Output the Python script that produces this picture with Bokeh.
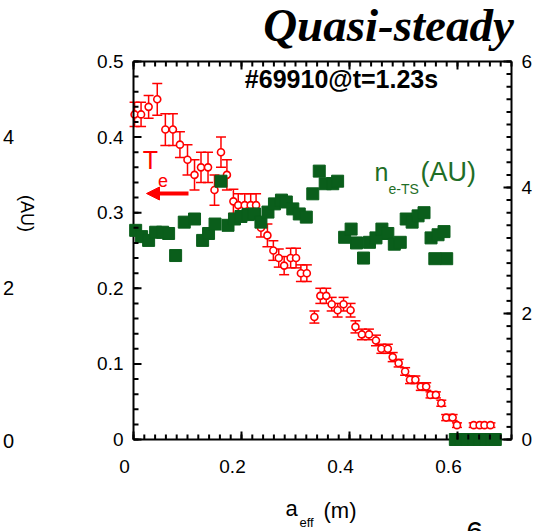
import math
from bokeh.plotting import figure
from bokeh.models import (Range1d, LinearAxis, ColumnDataSource, Whisker, TeeHead,
                          Label, Arrow, NormalHead, CustomJSTickFormatter, SingleIntervalTicker)
from bokeh.embed import file_html
from bokeh.resources import INLINE

# ---------------- data ----------------
te_x = [0.002, 0.014, 0.028, 0.044, 0.059, 0.073, 0.086, 0.100, 0.113, 0.125, 0.138, 0.150,
        0.162, 0.173, 0.185, 0.194, 0.206, 0.217, 0.227, 0.236, 0.248, 0.259, 0.269, 0.279,
        0.291, 0.301, 0.310, 0.321, 0.335, 0.346, 0.357, 0.367, 0.378, 0.389, 0.402, 0.411,
        0.423, 0.436, 0.449, 0.459, 0.471, 0.480, 0.491, 0.503, 0.512, 0.522, 0.532, 0.542,
        0.550, 0.560, 0.570, 0.579, 0.591, 0.599, 0.630, 0.641, 0.650, 0.661]
te_y = [0.430, 0.430, 0.440, 0.450, 0.410, 0.410, 0.390, 0.370, 0.350, 0.360, 0.360, 0.330,
        0.380, 0.350, 0.315, 0.310, 0.310, 0.310, 0.310, 0.280, 0.270, 0.250, 0.240, 0.230,
        0.240, 0.240, 0.220, 0.220, 0.162, 0.190, 0.190, 0.179, 0.171, 0.179, 0.171, 0.149,
        0.139, 0.139, 0.131, 0.120, 0.120, 0.109, 0.101, 0.090, 0.079, 0.079, 0.070, 0.070,
        0.059, 0.059, 0.048, 0.029, 0.029, 0.019, 0.019, 0.019, 0.019, 0.019]
te_err = [0.016, 0.016, 0.015, 0.021, 0.021, 0.021, 0.017, 0.020, 0.020, 0.020, 0.020, 0.020,
          0.020, 0.020, 0.016, 0.015, 0.015, 0.015, 0.015, 0.012, 0.015, 0.013, 0.012, 0.012,
          0.013, 0.013, 0.011, 0.011, 0.008, 0.010, 0.010, 0.009, 0.009, 0.009, 0.009, 0.008,
          0.007, 0.007, 0.007, 0.006, 0.006, 0.006, 0.005, 0.005, 0.005, 0.005, 0.005, 0.005,
          0.004, 0.004, 0.004, 0.004, 0.004, 0.003, 0.003, 0.003, 0.003, 0.003]

ne_x = [0.004, 0.015, 0.028, 0.041, 0.054, 0.065, 0.078, 0.094, 0.113, 0.128, 0.139, 0.151,
        0.162, 0.175, 0.187, 0.199, 0.212, 0.224, 0.236, 0.249, 0.261, 0.274, 0.283, 0.295,
        0.307, 0.320, 0.332, 0.344, 0.355, 0.369, 0.378, 0.391, 0.403, 0.413, 0.426, 0.437,
        0.449, 0.460, 0.471, 0.483, 0.494, 0.505, 0.516, 0.527, 0.538, 0.551, 0.558, 0.564,
        0.575, 0.580,
        0.596, 0.607, 0.618, 0.630, 0.641, 0.652, 0.663, 0.670]
ne_y = [3.32, 3.22, 3.16, 3.29, 3.29, 3.27, 2.92, 3.45, 3.50, 3.16, 3.27, 3.42,
        4.10, 3.40, 3.50, 3.54, 3.57, 3.58, 3.45, 3.61, 3.74, 3.80, 3.77, 3.66,
        3.58, 3.53, 3.90, 4.26, 4.06, 4.06, 4.10, 3.21, 3.34, 3.12, 2.88, 3.13,
        3.20, 3.34, 3.27, 3.10, 3.13, 3.50, 3.45, 3.55, 3.60, 3.20, 2.87, 3.25,
        3.30, 2.87,
        0.0, 0.0, 0.0, 0.0, 0.0, 0.0, 0.0, 0.0]

x_ticks = [0, 0.2, 0.4, 0.6]
x_tick_labels = ["0", "0.2", "0.4", "0.6"]
x_minor_ticks = [round(i * 0.02, 3) for i in range(36)]
y_ticks = [0, 0.1, 0.2, 0.3, 0.4, 0.5]
y_tick_labels = ["0", "0.1", "0.2", "0.3", "0.4", "0.5"]
y_minor_ticks = [round(i * 0.02, 3) for i in range(26)]
y2_ticks = [0, 2, 4, 6]
y2_tick_labels = ["0", "2", "4", "6"]
y2_minor_ticks = [round(i * 0.2, 2) for i in range(31)]
side_ticks = ["4", "2", "0"]

title_text = "Quasi-steady"
shot_text = "#69910@t=1.23s"

# ---------------- layout ----------------
W, H = 548, 531
L, R, T, B = 133, 511, 61, 439          # plot box in page pixels
XMAX, YMAX, Y2MAX = 0.7, 0.5, 6.0
MAJ, MIN, TW = 8, 5, 2                   # tick lengths / width (px)

RED = "#ff0000"
GREEN = "#0a5e1b"
TGREEN = "#1f6e27"
FONT = "Liberation Sans"

KX = XMAX / (R - L)      # data units per pixel
KY = YMAX / (B - T)
KY2 = Y2MAX / (B - T)


def dx(px):
    return (px - L) * KX


def dy(py):
    return (B - py) * KY


def dy2(py):
    return (B - py) * KY2


# the frame covers the whole page; the axes are pinned at the box edges
p = figure(width=W, height=H, output_backend="svg", toolbar_location=None,
           x_range=Range1d(dx(0), dx(W)), y_range=Range1d(dy(H), dy(0)),
           min_border=0, x_axis_location=None, y_axis_location=None)
p.extra_y_ranges = {"ne": Range1d(dy2(H), dy2(0))}
p.outline_line_color = None
p.background_fill_color = "white"
p.border_fill_color = "white"
p.grid.visible = False

blank = CustomJSTickFormatter(code="return ''")


def style(ax):
    ax.axis_line_width = 2
    ax.axis_line_color = "black"
    ax.major_tick_in = 0
    ax.major_tick_out = 0
    ax.minor_tick_in = 0
    ax.minor_tick_out = 0
    ax.major_tick_line_color = None
    ax.minor_tick_line_color = None
    ax.major_label_text_font = FONT
    ax.major_label_text_font_size = "19px"
    ax.major_label_text_color = "black"
    ax.major_label_standoff = 10


ax = LinearAxis(ticker=SingleIntervalTicker(interval=0.2), formatter=blank,
                fixed_location=0, bounds=(0, XMAX))
style(ax)
p.add_layout(ax, "below")
ax = LinearAxis(ticker=SingleIntervalTicker(interval=0.2), formatter=blank,
                fixed_location=YMAX, bounds=(0, XMAX))
style(ax)
p.add_layout(ax, "above")
ax = LinearAxis(ticker=SingleIntervalTicker(interval=0.1),
                major_label_overrides={v: s for v, s in zip(y_ticks, y_tick_labels)},
                fixed_location=0, bounds=(0, YMAX))
style(ax)
p.add_layout(ax, "left")
ax = LinearAxis(y_range_name="ne", ticker=SingleIntervalTicker(interval=2),
                major_label_overrides={v: s for v, s in zip(y2_ticks, y2_tick_labels)},
                fixed_location=XMAX, bounds=(0, Y2MAX))
style(ax)
p.add_layout(ax, "right")


# inward tick marks on all four sides, drawn as head-less whiskers through the plot scales
def ticks(base, lo, hi, dim, range_name="default"):
    s = ColumnDataSource(dict(b=base, lo=lo, hi=hi))
    w = Whisker(source=s, base="b", lower="lo", upper="hi", dimension=dim,
                upper_head=None, lower_head=None, line_color="black", line_width=TW,
                level="overlay")
    if range_name != "default":
        w.y_range_name = range_name
    p.add_layout(w)


for vals, n in ((x_minor_ticks, MIN), (x_ticks, MAJ)):
    k = len(vals)
    ticks(vals, [0] * k, [n * KY] * k, "height")
    ticks(vals, [YMAX - n * KY] * k, [YMAX] * k, "height")
for vals, n in ((y_minor_ticks, MIN), (y_ticks, MAJ)):
    k = len(vals)
    ticks(vals, [0] * k, [n * KX] * k, "width")
for vals, n in ((y2_minor_ticks, MIN), (y2_ticks, MAJ)):
    k = len(vals)
    ticks(vals, [XMAX - n * KX] * k, [XMAX] * k, "width", "ne")

# x tick labels (drawn slightly left of the ticks, as in the reference)
for v, s in zip(x_ticks, x_tick_labels):
    p.add_layout(Label(x=v, y=dy(466), x_offset=-9, text=s, text_align="center",
                       text_baseline="middle", text_font=FONT, text_font_size="19px",
                       text_color="black"))

# ---------------- data glyphs ----------------
src = ColumnDataSource(dict(x=te_x, y=te_y,
                            upper=[a + b for a, b in zip(te_y, te_err)],
                            lower=[a - b for a, b in zip(te_y, te_err)]))
p.add_layout(Whisker(source=src, base="x", upper="upper", lower="lower",
                     line_color=RED, line_width=1.5,
                     upper_head=TeeHead(size=10, line_color=RED, line_width=1.5),
                     lower_head=TeeHead(size=10, line_color=RED, line_width=1.5)))
p.scatter("x", "y", source=src, marker="circle", size=7, fill_color="white",
          line_color=RED, line_width=1.6)

p.scatter(ne_x, ne_y, y_range_name="ne", marker="square", size=12,
          fill_color=GREEN, line_color=GREEN, level="overlay")

# ---------------- texts ----------------
p.add_layout(Label(x=dx(388), y=dy(24), text=title_text, text_align="center",
                   text_baseline="middle", text_font="Liberation Serif",
                   text_font_style="bold italic", text_font_size="47px", text_color="black"))
p.add_layout(Label(x=dx(341), y=dy(78), text=shot_text, text_align="center",
                   text_baseline="middle", text_font=FONT, text_font_style="bold",
                   text_font_size="25px", text_color="black"))

# Te label with arrow
p.add_layout(Label(x=dx(150), y=dy(159), text="T", text_align="center", text_baseline="middle",
                   text_font=FONT, text_font_size="25px", text_color=RED))
p.add_layout(Label(x=dx(162.5), y=dy(180), text="e", text_align="center", text_baseline="middle",
                   text_font=FONT, text_font_size="18px", text_color=RED))
p.add_layout(Arrow(x_start=dx(188), y_start=dy(193), x_end=dx(146), y_end=dy(193),
                   line_color=RED, line_width=4,
                   end=NormalHead(size=13, fill_color=RED, line_color=RED, line_width=1)))

# ne label
p.add_layout(Label(x=dx(374), y=dy(171), text="n", text_align="left", text_baseline="middle",
                   text_font=FONT, text_font_size="25px", text_color=TGREEN))
p.add_layout(Label(x=dx(388), y=dy(188), text="e-TS", text_align="left", text_baseline="middle",
                   text_font=FONT, text_font_size="14px", text_color=TGREEN))
p.add_layout(Label(x=dx(420), y=dy(171), text="(AU)", text_align="left", text_baseline="middle",
                   text_font=FONT, text_font_size="27px", text_color=TGREEN))

# x-axis title
p.add_layout(Label(x=dx(291), y=dy(508), text="a", text_align="center", text_baseline="middle",
                   text_font=FONT, text_font_size="22px", text_color="black"))
p.add_layout(Label(x=dx(299), y=dy(522), text="eff", text_align="left", text_baseline="middle",
                   text_font=FONT, text_font_size="13px", text_color="black"))
p.add_layout(Label(x=dx(323), y=dy(510), text="(m)", text_align="left", text_baseline="middle",
                   text_font=FONT, text_font_size="22px", text_color="black"))

# remnants of the neighbouring panel
for s, py in zip(side_ticks, [136, 287, 440]):
    p.add_layout(Label(x=dx(8), y=dy(py), text=s, text_align="center", text_baseline="middle",
                       text_font=FONT, text_font_size="20px", text_color="black"))
p.add_layout(Label(x=dx(26), y=dy(213), text="(AU)", text_align="center", text_baseline="middle",
                   angle=-math.pi / 2, text_font=FONT, text_font_size="18px", text_color="black"))
p.add_layout(Label(x=dx(474), y=dy(531), text="6", text_align="center", text_baseline="middle",
                   text_font=FONT, text_font_size="30px", text_color="black"))

open("out.html", "w").write(file_html(p, INLINE))
